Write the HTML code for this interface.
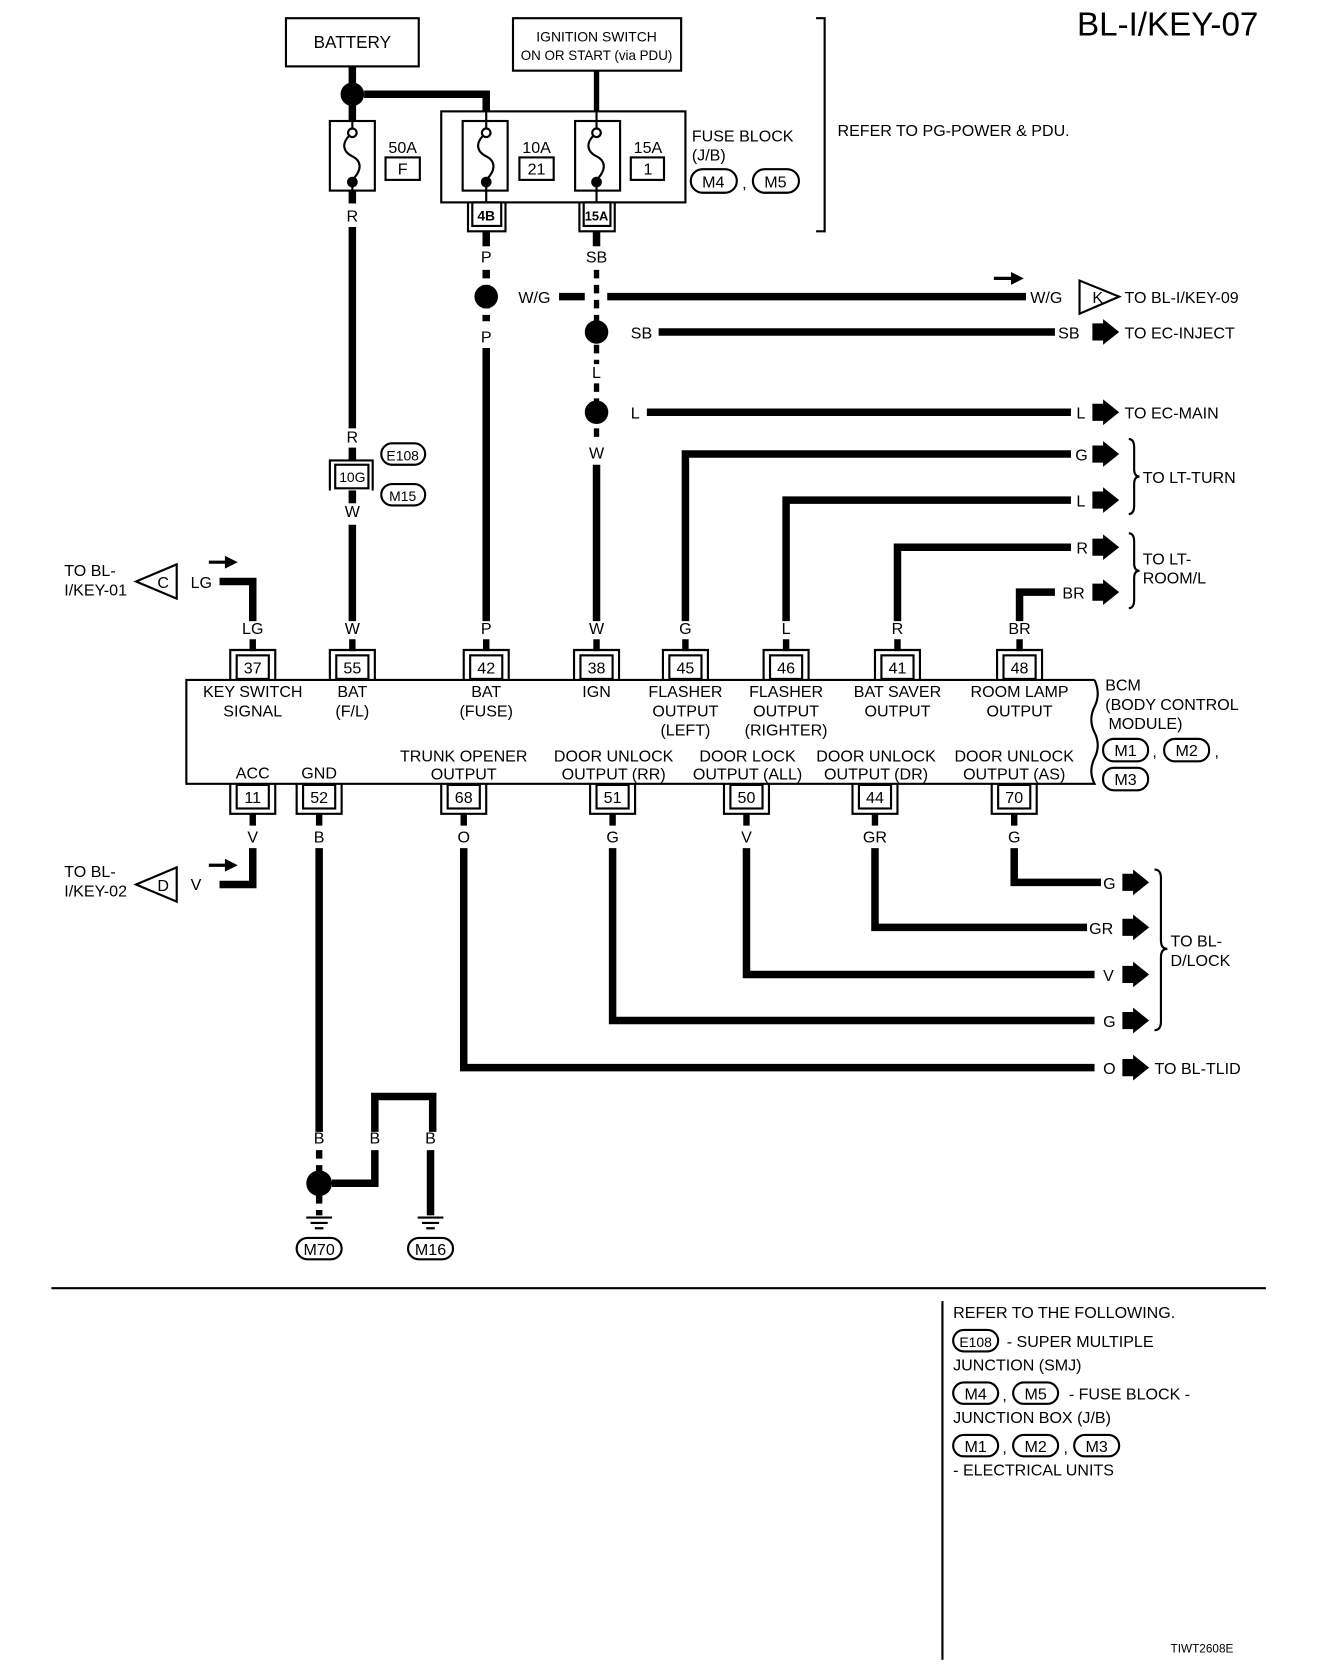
<!DOCTYPE html>
<html><head><meta charset="utf-8"><style>
html,body{margin:0;padding:0;background:#fff}
svg{display:block}
text{font-family:"Liberation Sans",sans-serif;font-size:15px;fill:#000}
.w{stroke:#000;stroke-width:7;fill:none}
.dw{stroke:#000;stroke-width:7;fill:none;stroke-dasharray:8 6}
.t{stroke:#000;stroke-width:2;fill:none}
.tb{stroke:#000;stroke-width:2;fill:#fff}
.c{text-anchor:middle}
</style></head><body>
<svg width="1328" height="1678" viewBox="0 0 1240 1567" preserveAspectRatio="none" xmlns="http://www.w3.org/2000/svg">
<text x="1175" y="33" style="font-size:31px;text-anchor:end">BL-I/KEY-07</text>

<rect x="267" y="17" width="124" height="45" class="t"/>
<text x="329" y="45" class="c" style="font-size:16px">BATTERY</text>
<rect x="479" y="17" width="157" height="49" class="t"/>
<text x="557" y="39" class="c" style="font-size:13px">IGNITION SWITCH</text>
<text x="557" y="56" class="c" style="font-size:12.5px">ON OR START (via PDU)</text>
<path d="M762 17 H770 V216 H762" class="t"/>
<text x="782" y="127">REFER TO PG-POWER &amp; PDU.</text>

<path d="M329 62 V113" class="w"/>
<circle cx="329" cy="88" r="11"/>
<path d="M340 88 H454 V104" class="w"/>
<rect x="412" y="104" width="228" height="85" class="t"/>
<path d="M557 66 V104" class="w" style="stroke-width:5"/>
<g class="t">
<rect x="308" y="113" width="42" height="65"/>
<rect x="432" y="113" width="42" height="65"/>
<rect x="537" y="113" width="42" height="65"/>
</g>
<g stroke="#000" stroke-width="2" fill="none">
<path d="M329 113 V124 M329 168 V178 M329 124 c-12 10 -8 18 0 22 c8 4 10 12 0 22"/>
<path d="M454 104 V124 M454 168 V189 M454 124 c-12 10 -8 18 0 22 c8 4 10 12 0 22"/>
<path d="M557 104 V124 M557 168 V189 M557 124 c-12 10 -8 18 0 22 c8 4 10 12 0 22"/>
</g>
<circle cx="329" cy="124" r="4" fill="#fff" stroke="#000" stroke-width="2"/>
<circle cx="329" cy="170" r="5"/>
<circle cx="454" cy="124" r="4" fill="#fff" stroke="#000" stroke-width="2"/>
<circle cx="454" cy="170" r="5"/>
<circle cx="557" cy="124" r="4" fill="#fff" stroke="#000" stroke-width="2"/>
<circle cx="557" cy="170" r="5"/>
<text x="376" y="143" class="c">50A</text><rect x="360" y="147" width="32" height="21" class="t"/><text x="376" y="163" class="c">F</text>
<text x="501" y="143" class="c">10A</text><rect x="485" y="147" width="32" height="21" class="t"/><text x="501" y="163" class="c">21</text>
<text x="605" y="143" class="c">15A</text><rect x="589" y="147" width="31" height="21" class="t"/><text x="605" y="163" class="c">1</text>
<text x="646" y="132">FUSE BLOCK</text>
<text x="646" y="150">(J/B)</text>
<rect x="645" y="158" width="43" height="22" rx="11" class="t"/><text x="666" y="175" class="c">M4</text>
<text x="693" y="176">,</text>
<rect x="703" y="158" width="43" height="22" rx="11" class="t"/><text x="724" y="175" class="c">M5</text>
<path d="M437 189 V216 H472 V189" class="t"/><rect x="441" y="189" width="27" height="22" class="t"/><text x="454" y="206" class="c" style="font-size:13px;font-weight:bold">4B</text>
<path d="M541 189 V216 H574 V189" class="t"/><rect x="545" y="189" width="25" height="22" class="t"/><text x="557" y="206" class="c" style="font-size:12px;font-weight:bold">15A</text>

<path d="M329 178 V190" class="w"/>
<text x="329" y="207" class="c">R</text>
<path d="M329 212 V400" class="w"/>
<text x="329" y="413" class="c">R</text>
<path d="M329 418 V430" class="w"/>
<path d="M308 458 V430 H348 V458" class="t"/><rect x="313" y="434" width="31" height="22" class="t"/><text x="329" y="450" class="c" style="font-size:13px">10G</text>
<rect x="356" y="414" width="41" height="20" rx="10" class="t"/><text x="376" y="430" class="c" style="font-size:13px">E108</text>
<rect x="356" y="452" width="41" height="20" rx="10" class="t"/><text x="376" y="468" class="c" style="font-size:13px">M15</text>
<path d="M329 458 V470" class="w"/>
<text x="329" y="483" class="c">W</text>
<path d="M329 490 V580" class="w"/>

<path d="M454 216 V230" class="w"/>
<text x="454" y="245" class="c">P</text>
<path d="M454 252 V300" class="dw"/>
<circle cx="454" cy="277" r="11"/>
<text x="484" y="283">W/G</text>
<path d="M522 277 H546" class="w"/>
<path d="M567 277 H958" class="w"/>
<path d="M928 260 H946" stroke="#000" stroke-width="3"/><polygon points="944,254 956,260 944,266"/>
<text x="962" y="283">W/G</text>
<polygon points="1008,262 1008,293 1045,277" class="t"/><text x="1020" y="283">K</text>
<text x="1050" y="283">TO BL-I/KEY-09</text>
<text x="454" y="320" class="c">P</text>
<path d="M454 325 V580" class="w"/>

<path d="M557 216 V230" class="w"/>
<text x="557" y="245" class="c">SB</text>
<path d="M557 252 V340" class="dw" style="stroke-width:5"/>
<circle cx="557" cy="310" r="11"/>
<text x="589" y="316">SB</text>
<path d="M615 310 H985" class="w"/>
<text x="988" y="316">SB</text>
<text x="557" y="353" class="c">L</text>
<path d="M557 358 V410" class="dw" style="stroke-width:5"/>
<circle cx="557" cy="385" r="11"/>
<text x="589" y="391">L</text>
<path d="M604 385 H1000" class="w"/>
<text x="1005" y="391">L</text>
<text x="557" y="428" class="c">W</text>
<path d="M557 434 V580" class="w"/>
<text x="1050" y="316">TO EC-INJECT</text>
<text x="1050" y="391">TO EC-MAIN</text>

<path d="M640 580 V424 H1000" class="w"/><text x="1004" y="430">G</text>
<path d="M734 580 V467 H1000" class="w"/><text x="1005" y="473">L</text>
<path d="M838 580 V511 H1000" class="w"/><text x="1005" y="517">R</text>
<path d="M952 580 V553 H985" class="w"/><text x="992" y="559">BR</text>
<g>
<polygon points="1020,302 1030,302 1030,298 1045,310 1030,322 1030,318 1020,318"/>
<polygon points="1020,377 1030,377 1030,373 1045,385 1030,397 1030,393 1020,393"/>
<polygon points="1020,416 1030,416 1030,412 1045,424 1030,436 1030,432 1020,432"/>
<polygon points="1020,459 1030,459 1030,455 1045,467 1030,479 1030,475 1020,475"/>
<polygon points="1020,503 1030,503 1030,499 1045,511 1030,523 1030,519 1020,519"/>
<polygon points="1020,545 1030,545 1030,541 1045,553 1030,565 1030,561 1020,561"/>
</g>
<path d="M1054 410 q5 0 5 8 v20 q0 7 5 7 q-5 0 -5 7 v20 q0 8 -5 8" class="t"/>
<text x="1067" y="451">TO LT-TURN</text>
<path d="M1054 498 q5 0 5 8 v20 q0 7 5 7 q-5 0 -5 7 v20 q0 8 -5 8" class="t"/>
<text x="1067" y="527">TO LT-</text>
<text x="1067" y="545">ROOM/L</text>

<path d="M236 580 V543 H205" class="w"/>
<text x="178" y="549">LG</text>
<path d="M195 525 H212" stroke="#000" stroke-width="3"/><polygon points="210,519 222,525 210,531"/>
<polygon points="165,527 165,559 127,543" class="t"/><text x="147" y="549">C</text>
<text x="60" y="538">TO BL-</text>
<text x="60" y="556">I/KEY-01</text>

<text x="236" y="592" class="c">LG</text><text x="329" y="592" class="c">W</text><text x="454" y="592" class="c">P</text><text x="557" y="592" class="c">W</text>
<text x="640" y="592" class="c">G</text><text x="734" y="592" class="c">L</text><text x="838" y="592" class="c">R</text><text x="952" y="592" class="c">BR</text>
<g class="w" style="stroke-width:6">
<path d="M236 597 V608 M329 597 V608 M454 597 V608 M557 597 V608 M640 597 V608 M734 597 V608 M838 597 V608 M952 597 V608"/>
<path d="M236 760 V771 M298 760 V771 M433 760 V771 M572 760 V771 M697 760 V771 M817 760 V771 M947 760 V771"/>
</g>
<g class="t">
<path d="M215 635 V607 H257 V635"/><rect x="221" y="612" width="30" height="22"/>
<path d="M308 635 V607 H350 V635"/><rect x="314" y="612" width="30" height="22"/>
<path d="M433 635 V607 H475 V635"/><rect x="439" y="612" width="30" height="22"/>
<path d="M536 635 V607 H578 V635"/><rect x="542" y="612" width="30" height="22"/>
<path d="M619 635 V607 H661 V635"/><rect x="625" y="612" width="30" height="22"/>
<path d="M713 635 V607 H755 V635"/><rect x="719" y="612" width="30" height="22"/>
<path d="M817 635 V607 H859 V635"/><rect x="823" y="612" width="30" height="22"/>
<path d="M931 635 V607 H973 V635"/><rect x="937" y="612" width="30" height="22"/>
</g>
<text x="236" y="629" class="c">37</text><text x="329" y="629" class="c">55</text><text x="454" y="629" class="c">42</text><text x="557" y="629" class="c">38</text>
<text x="640" y="629" class="c">45</text><text x="734" y="629" class="c">46</text><text x="838" y="629" class="c">41</text><text x="952" y="629" class="c">48</text>

<path d="M1022 635 H174 V732 H1022 q-6 -12 0 -24 q6 -12 0 -24 q-6 -12 0 -24 q6 -12 0 -25" class="t"/>
<text x="236" y="651" class="c">KEY SWITCH</text><text x="236" y="669" class="c">SIGNAL</text>
<text x="329" y="651" class="c">BAT</text><text x="329" y="669" class="c">(F/L)</text>
<text x="454" y="651" class="c">BAT</text><text x="454" y="669" class="c">(FUSE)</text>
<text x="557" y="651" class="c">IGN</text>
<text x="640" y="651" class="c">FLASHER</text><text x="640" y="669" class="c">OUTPUT</text><text x="640" y="687" class="c">(LEFT)</text>
<text x="734" y="651" class="c">FLASHER</text><text x="734" y="669" class="c">OUTPUT</text><text x="734" y="687" class="c">(RIGHTER)</text>
<text x="838" y="651" class="c">BAT SAVER</text><text x="838" y="669" class="c">OUTPUT</text>
<text x="952" y="651" class="c">ROOM LAMP</text><text x="952" y="669" class="c">OUTPUT</text>
<text x="433" y="711" class="c">TRUNK OPENER</text><text x="433" y="728" class="c">OUTPUT</text>
<text x="573" y="711" class="c">DOOR UNLOCK</text><text x="573" y="728" class="c">OUTPUT (RR)</text>
<text x="698" y="711" class="c">DOOR LOCK</text><text x="698" y="728" class="c">OUTPUT (ALL)</text>
<text x="818" y="711" class="c">DOOR UNLOCK</text><text x="818" y="728" class="c">OUTPUT (DR)</text>
<text x="947" y="711" class="c">DOOR UNLOCK</text><text x="947" y="728" class="c">OUTPUT (AS)</text>
<text x="236" y="727" class="c">ACC</text><text x="298" y="727" class="c">GND</text>
<text x="1032" y="645">BCM</text>
<text x="1032" y="663">(BODY CONTROL</text>
<text x="1035" y="681">MODULE)</text>
<rect x="1030" y="690" width="42" height="21" rx="10" class="t"/><text x="1051" y="706" class="c">M1</text>
<text x="1076" y="707">,</text>
<rect x="1087" y="690" width="42" height="21" rx="10" class="t"/><text x="1108" y="706" class="c">M2</text>
<text x="1134" y="707">,</text>
<rect x="1030" y="717" width="42" height="21" rx="10" class="t"/><text x="1051" y="733" class="c">M3</text>

<g class="t">
<path d="M215 732 V760 H257 V732"/><rect x="221" y="733" width="30" height="22"/>
<path d="M277 732 V760 H319 V732"/><rect x="283" y="733" width="30" height="22"/>
<path d="M412 732 V760 H454 V732"/><rect x="418" y="733" width="30" height="22"/>
<path d="M551 732 V760 H593 V732"/><rect x="557" y="733" width="30" height="22"/>
<path d="M676 732 V760 H718 V732"/><rect x="682" y="733" width="30" height="22"/>
<path d="M796 732 V760 H838 V732"/><rect x="802" y="733" width="30" height="22"/>
<path d="M926 732 V760 H968 V732"/><rect x="932" y="733" width="30" height="22"/>
</g>
<text x="236" y="750" class="c">11</text><text x="298" y="750" class="c">52</text><text x="433" y="750" class="c">68</text><text x="572" y="750" class="c">51</text>
<text x="697" y="750" class="c">50</text><text x="817" y="750" class="c">44</text><text x="947" y="750" class="c">70</text>
<text x="236" y="787" class="c">V</text><text x="298" y="787" class="c">B</text><text x="433" y="787" class="c">O</text><text x="572" y="787" class="c">G</text>
<text x="697" y="787" class="c">V</text><text x="817" y="787" class="c">GR</text><text x="947" y="787" class="c">G</text>

<path d="M236 792 V826 H205" class="w"/>
<text x="178" y="831">V</text>
<path d="M195 808 H212" stroke="#000" stroke-width="3"/><polygon points="210,802 222,808 210,814"/>
<polygon points="165,810 165,842 127,826" class="t"/><text x="147" y="832">D</text>
<text x="60" y="819">TO BL-</text>
<text x="60" y="837">I/KEY-02</text>

<path d="M947 792 V824 H1028" class="w"/><text x="1030" y="830">G</text>
<path d="M817 792 V866 H1015" class="w"/><text x="1017" y="872">GR</text>
<path d="M697 792 V910 H1022" class="w"/><text x="1030" y="916">V</text>
<path d="M572 792 V953 H1022" class="w"/><text x="1030" y="959">G</text>
<path d="M433 792 V997 H1022" class="w"/><text x="1030" y="1003">O</text>
<g>
<polygon points="1048,816 1058,816 1058,812 1073,824 1058,836 1058,832 1048,832"/>
<polygon points="1048,858 1058,858 1058,854 1073,866 1058,878 1058,874 1048,874"/>
<polygon points="1048,902 1058,902 1058,898 1073,910 1058,922 1058,918 1048,918"/>
<polygon points="1048,945 1058,945 1058,941 1073,953 1058,965 1058,961 1048,961"/>
<polygon points="1048,989 1058,989 1058,985 1073,997 1058,1009 1058,1005 1048,1005"/>
</g>
<path d="M1078 812 q6 0 6 8 v58 q0 8 6 8 q-6 0 -6 8 v60 q0 8 -6 8" class="t"/>
<text x="1093" y="884">TO BL-</text>
<text x="1093" y="902">D/LOCK</text>
<text x="1078" y="1003">TO BL-TLID</text>

<path d="M298 792 V1057" class="w"/>
<path d="M350 1057 V1024 H404 V1057" class="w"/>
<text x="298" y="1068" class="c">B</text><text x="350" y="1068" class="c">B</text><text x="402" y="1068" class="c">B</text>
<path d="M298 1074 V1135" class="dw" style="stroke-width:6"/>
<circle cx="298" cy="1105" r="12"/>
<path d="M310 1105 H350 V1074" class="w"/>
<path d="M402 1074 V1135" class="w"/>
<g stroke="#000" stroke-width="2">
<path d="M286 1137 H310 M290 1142 H306 M294 1147 H302"/>
<path d="M390 1137 H414 M394 1142 H410 M398 1147 H406"/>
</g>
<rect x="277" y="1156" width="42" height="20" rx="10" class="t"/><text x="298" y="1172" class="c">M70</text>
<rect x="381" y="1156" width="42" height="20" rx="10" class="t"/><text x="402" y="1172" class="c">M16</text>

<path d="M48 1203 H1182" stroke="#000" stroke-width="2"/>
<path d="M880 1215 V1550" stroke="#000" stroke-width="2"/>
<text x="890" y="1231">REFER TO THE FOLLOWING.</text>
<rect x="890" y="1242" width="42" height="20" rx="10" class="t"/><text x="911" y="1258" class="c" style="font-size:13px">E108</text>
<text x="940" y="1258">- SUPER MULTIPLE</text>
<text x="890" y="1280">JUNCTION (SMJ)</text>
<rect x="890" y="1291" width="42" height="20" rx="10" class="t"/><text x="911" y="1307" class="c">M4</text>
<text x="936" y="1308">,</text>
<rect x="946" y="1291" width="42" height="20" rx="10" class="t"/><text x="967" y="1307" class="c">M5</text>
<text x="998" y="1307">- FUSE BLOCK -</text>
<text x="890" y="1329">JUNCTION BOX (J/B)</text>
<rect x="890" y="1340" width="42" height="20" rx="10" class="t"/><text x="911" y="1356" class="c">M1</text>
<text x="936" y="1357">,</text>
<rect x="946" y="1340" width="42" height="20" rx="10" class="t"/><text x="967" y="1356" class="c">M2</text>
<text x="993" y="1357">,</text>
<rect x="1003" y="1340" width="42" height="20" rx="10" class="t"/><text x="1024" y="1356" class="c">M3</text>
<text x="890" y="1378">- ELECTRICAL UNITS</text>
<text x="1093" y="1543" style="font-size:11px">TIWT2608E</text>
</svg>
</body></html>
